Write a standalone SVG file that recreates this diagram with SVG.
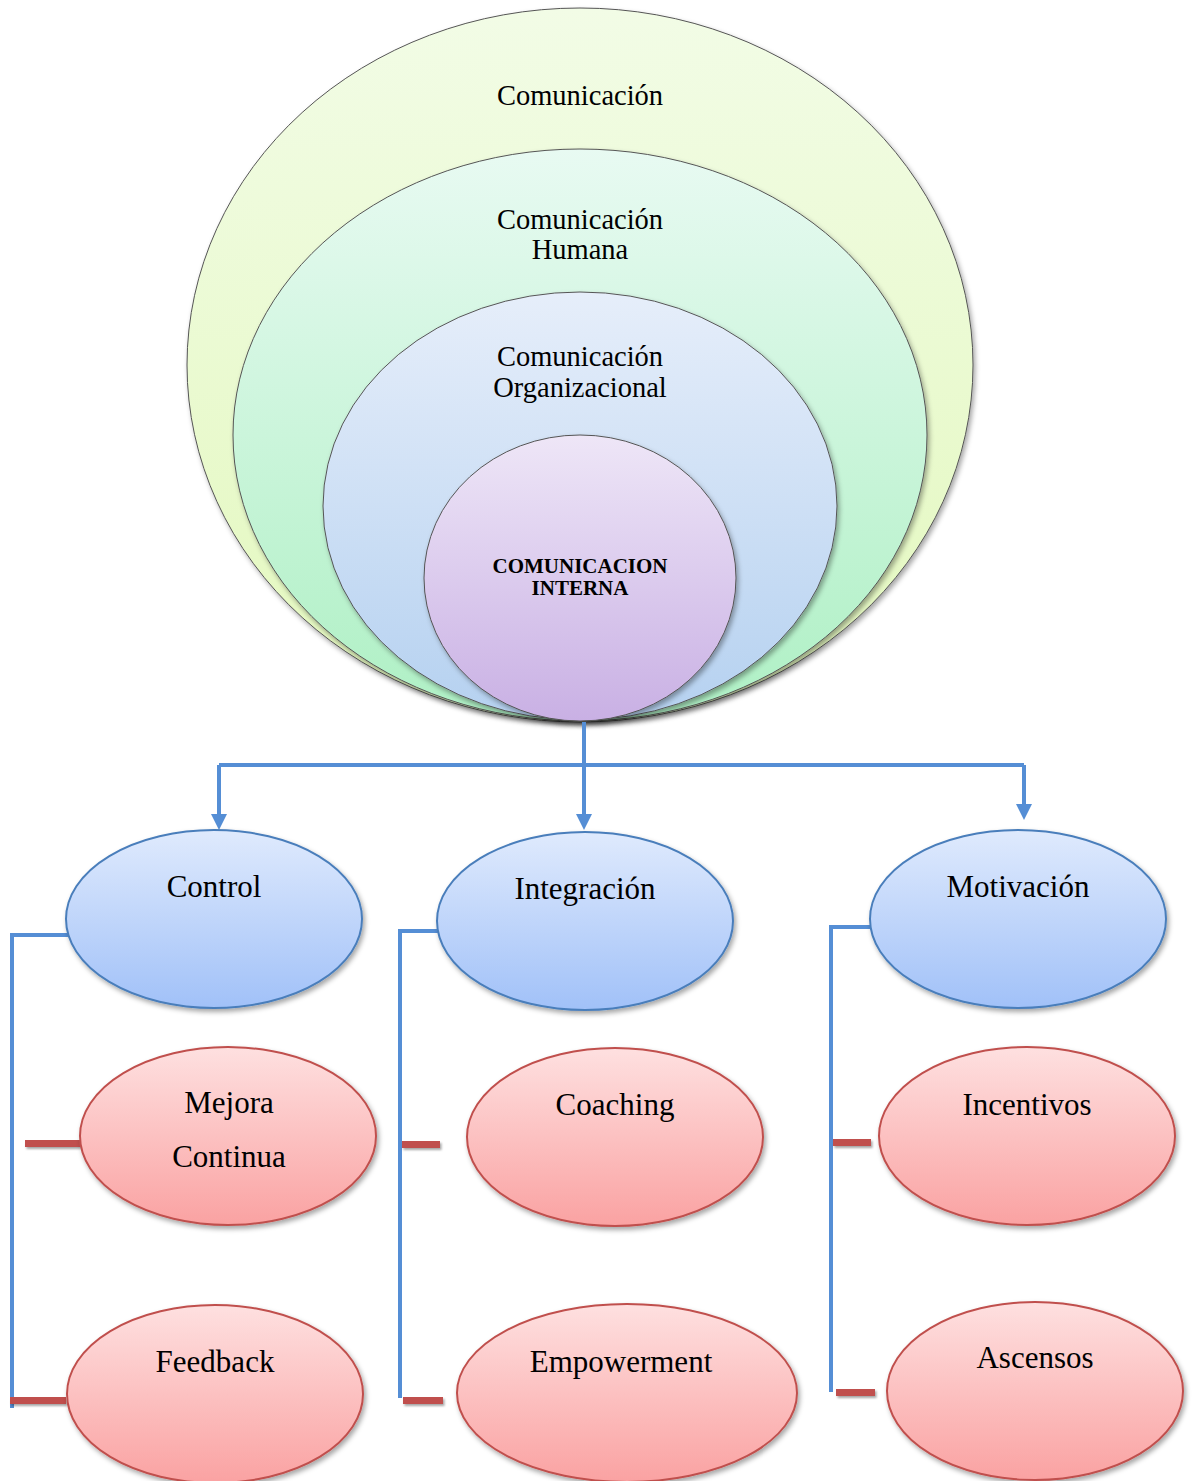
<svg xmlns="http://www.w3.org/2000/svg" width="1194" height="1481" viewBox="0 0 1194 1481">
<defs>
<linearGradient id="gOuter" x1="0" y1="0" x2="0" y2="1"><stop offset="0" stop-color="#f2fce6"/><stop offset="1" stop-color="#e3f8bd"/></linearGradient>
<linearGradient id="gHum" x1="0" y1="0" x2="0" y2="1"><stop offset="0" stop-color="#e8faf2"/><stop offset="1" stop-color="#aef0c4"/></linearGradient>
<linearGradient id="gOrg" x1="0" y1="0" x2="0" y2="1"><stop offset="0" stop-color="#e6eefa"/><stop offset="1" stop-color="#b5d1f0"/></linearGradient>
<linearGradient id="gInt" x1="0" y1="0" x2="0" y2="1"><stop offset="0" stop-color="#eee6f7"/><stop offset="1" stop-color="#c9b0e4"/></linearGradient>
<linearGradient id="gBlue" x1="0" y1="0" x2="0" y2="1"><stop offset="0" stop-color="#dfeafd"/><stop offset="1" stop-color="#a1c1f8"/></linearGradient>
<linearGradient id="gRed" x1="0" y1="0" x2="0" y2="1"><stop offset="0" stop-color="#fee0e0"/><stop offset="1" stop-color="#faa2a2"/></linearGradient>
<filter id="sh" x="-10%" y="-10%" width="125%" height="125%"><feDropShadow dx="2" dy="3" stdDeviation="2.5" flood-color="#000" flood-opacity="0.35"/></filter>
<filter id="shs" x="-20%" y="-100%" width="150%" height="300%"><feDropShadow dx="1.5" dy="2" stdDeviation="1.2" flood-color="#000" flood-opacity="0.35"/></filter>
<marker id="arr" markerWidth="4" markerHeight="4" refX="2" refY="2" orient="auto" markerUnits="strokeWidth"><path d="M0,0 L4,2 L0,4 Z" fill="#558ed5"/></marker>
</defs>
<style>
.ring{stroke:#555;stroke-width:1;filter:url(#sh)}
.blue{fill:url(#gBlue);stroke:#4a7ebb;stroke-width:2;filter:url(#sh)}
.red{fill:url(#gRed);stroke:#c0504d;stroke-width:2;filter:url(#sh)}
.t{font-family:"Liberation Serif","Times New Roman",serif;fill:#000;text-anchor:middle}
.big{font-size:31px}
.mid{font-size:28.5px}
.bold{font-size:21px;font-weight:bold}
.cn{fill:none;stroke:#558ed5;stroke-width:4}
.st{fill:#c0504d;filter:url(#shs)}
</style>
<rect width="1194" height="1481" fill="#fff"/>
<g id="comunicacion"><ellipse class="ring" cx="580" cy="365" rx="393" ry="357" fill="url(#gOuter)"/><text class="t mid" x="580" y="105">Comunicación</text></g>
<g id="comunicacion-humana"><ellipse class="ring" cx="580" cy="435" rx="347" ry="286" fill="url(#gHum)"/><text class="t mid" x="580" y="229">Comunicación</text><text class="t mid" x="580" y="259">Humana</text></g>
<g id="comunicacion-organizacional"><ellipse class="ring" cx="580" cy="506" rx="257" ry="214" fill="url(#gOrg)"/><text class="t mid" x="580" y="366">Comunicación</text><text class="t mid" x="580" y="397">Organizacional</text></g>
<g id="comunicacion-interna"><ellipse class="ring" cx="580" cy="578" rx="156" ry="143" fill="url(#gInt)"/><text class="t bold" x="580" y="573">COMUNICACION</text><text class="t bold" x="580" y="595">INTERNA</text></g>
<g id="connectors">
<path class="cn" d="M584,722 V822" marker-end="url(#arr)"/>
<path class="cn" d="M219,765 H1024"/>
<path class="cn" d="M219,765 V822" marker-end="url(#arr)"/>
<path class="cn" d="M1024,765 V812" marker-end="url(#arr)"/>
<path class="cn" d="M68,935 H12 V1408"/>
<path class="cn" d="M438,931 H400 V1398"/>
<path class="cn" d="M870,927 H831 V1392"/>
<rect class="st" x="25" y="1140" width="55" height="7"/>
<rect class="st" x="10" y="1397" width="56" height="7"/>
<rect class="st" x="402" y="1141" width="38" height="7"/>
<rect class="st" x="403" y="1397" width="40" height="7"/>
<rect class="st" x="833" y="1139" width="38" height="7"/>
<rect class="st" x="836" y="1389" width="39" height="7"/>
</g>
<g id="control"><ellipse class="blue" cx="214" cy="919" rx="148" ry="89"/><text class="t big" x="214" y="897">Control</text></g>
<g id="integracion"><ellipse class="blue" cx="585" cy="921" rx="148" ry="89"/><text class="t big" x="585" y="899">Integración</text></g>
<g id="motivacion"><ellipse class="blue" cx="1018" cy="919" rx="148" ry="89"/><text class="t big" x="1018" y="897">Motivación</text></g>
<g id="mejora-continua"><ellipse class="red" cx="228" cy="1136" rx="148" ry="89"/><text class="t big" x="229" y="1113">Mejora</text><text class="t big" x="229" y="1167">Continua</text></g>
<g id="coaching"><ellipse class="red" cx="615" cy="1137" rx="148" ry="89"/><text class="t big" x="615" y="1115">Coaching</text></g>
<g id="incentivos"><ellipse class="red" cx="1027" cy="1136" rx="148" ry="89"/><text class="t big" x="1027" y="1115">Incentivos</text></g>
<g id="feedback"><ellipse class="red" cx="215" cy="1394" rx="148" ry="89"/><text class="t big" x="215" y="1372">Feedback</text></g>
<g id="empowerment"><ellipse class="red" cx="627" cy="1393" rx="170" ry="89"/><text class="t big" x="621" y="1372">Empowerment</text></g>
<g id="ascensos"><ellipse class="red" cx="1035" cy="1391" rx="148" ry="89"/><text class="t big" x="1035" y="1368">Ascensos</text></g>
</svg>
